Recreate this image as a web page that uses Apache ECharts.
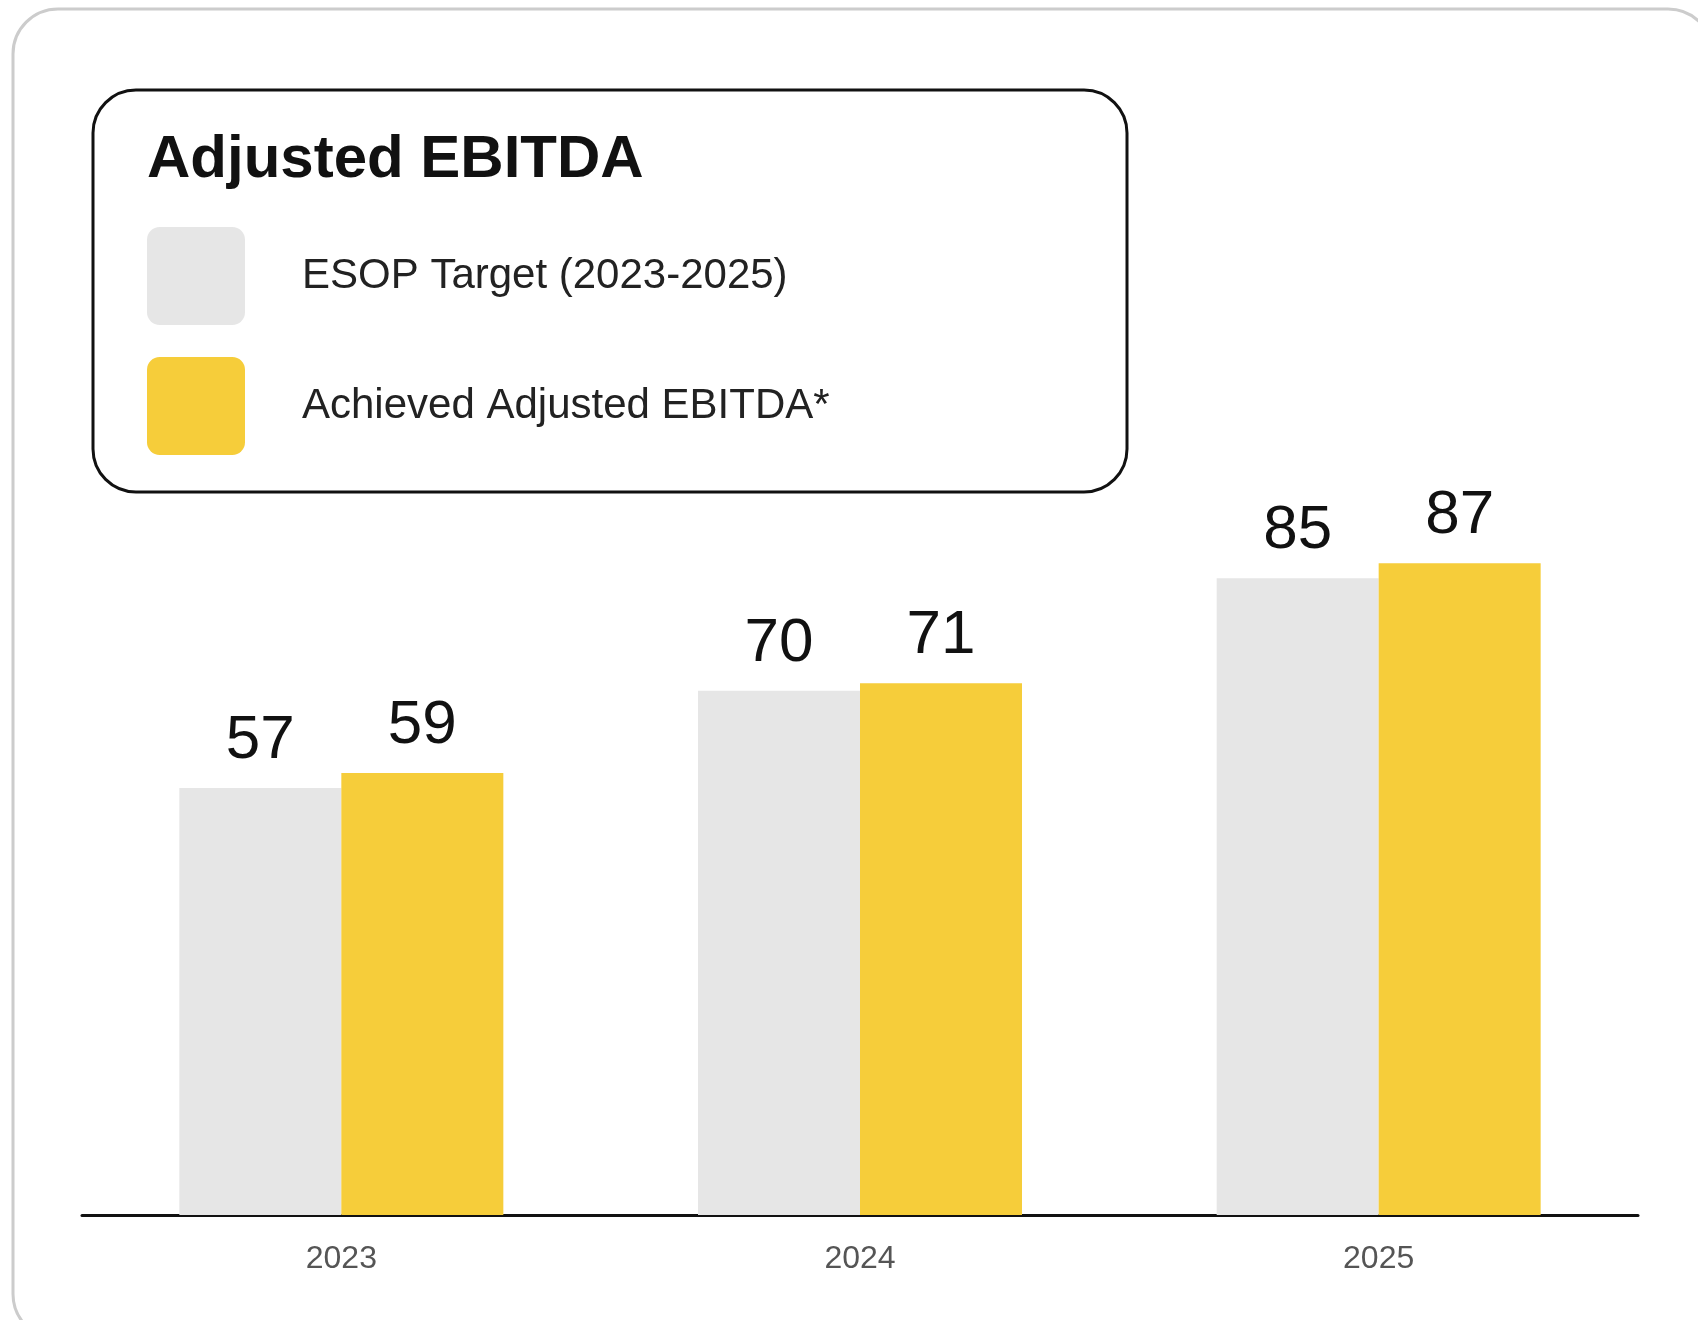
<!DOCTYPE html>
<html>
<head>
<meta charset="utf-8">
<title>Adjusted EBITDA</title>
<script src="https://cdn.jsdelivr.net/npm/echarts@6/dist/echarts.min.js"></script>
<style>
  html, body { margin: 0; padding: 0; background: #fff; }
  #chart { width: 1698px; height: 1320px; }
</style>
</head>
<body>
<div id="chart"></div>
<script>
const categories = ['2023', '2024', '2025']
const targetValues = [57, 70, 85]
const achievedValues = [59, 71, 87]
const seriesNames = ['ESOP Target (2023-2025)', 'Achieved Adjusted EBITDA*']
const colors = ['#E6E6E6', '#F6CD3A']

const FONT = '"Liberation Sans", Arial, sans-serif'
// rounded square used as legend swatch
const swatch = 'path://M13,0H87A13,13,0,0,1,100,13V87A13,13,0,0,1,87,100H13A13,13,0,0,1,0,87V13A13,13,0,0,1,13,0Z'

const chart = echarts.init(document.getElementById('chart'))

const barLabel = {
  show: true,
  position: 'top',
  distance: 16,
  fontSize: 62,
  color: '#111',
  fontFamily: FONT
}

const option = {
  backgroundColor: '#fff',
  animation: false,
  title: {
    text: 'Adjusted EBITDA',
    left: 147,
    top: 130,
    padding: 0,
    textStyle: {
      fontSize: 60,
      fontWeight: 'bold',
      color: '#111',
      fontFamily: FONT
    }
  },
  legend: {
    orient: 'vertical',
    left: 147,
    top: 227,
    padding: 0,
    itemWidth: 98,
    itemHeight: 98,
    itemGap: 32,
    icon: swatch,
    data: seriesNames,
    textStyle: {
      fontSize: 42,
      color: '#222',
      fontFamily: FONT,
      padding: [7, 0, 0, 52]
    }
  },
  graphic: [
    {
      type: 'rect',
      z: -10,
      shape: { x: 13, y: 9, width: 1700, height: 1330, r: 45 },
      style: { fill: 'none', stroke: '#CCCCCC', lineWidth: 3 }
    },
    {
      type: 'rect',
      z: -5,
      shape: { x: 93, y: 90, width: 1034, height: 402, r: 43 },
      style: { fill: 'none', stroke: '#111', lineWidth: 3 }
    }
  ],
  grid: {
    left: 82,
    right: 60,
    top: 466,
    bottom: 105
  },
  xAxis: {
    type: 'category',
    data: categories,
    axisLine: { lineStyle: { color: '#111', width: 3 } },
    axisTick: { show: false },
    axisLabel: {
      margin: 28,
      fontSize: 32,
      color: '#555',
      fontFamily: FONT
    }
  },
  yAxis: {
    type: 'value',
    min: 0,
    max: 100,
    show: false,
    splitLine: { show: false }
  },
  series: [
    {
      name: seriesNames[0],
      type: 'bar',
      data: targetValues,
      barWidth: 162,
      barGap: '0%',
      itemStyle: { color: colors[0] },
      label: barLabel
    },
    {
      name: seriesNames[1],
      type: 'bar',
      data: achievedValues,
      barWidth: 162,
      itemStyle: { color: colors[1] },
      label: barLabel
    }
  ]
}

chart.setOption(option)
</script>
</body>
</html>
